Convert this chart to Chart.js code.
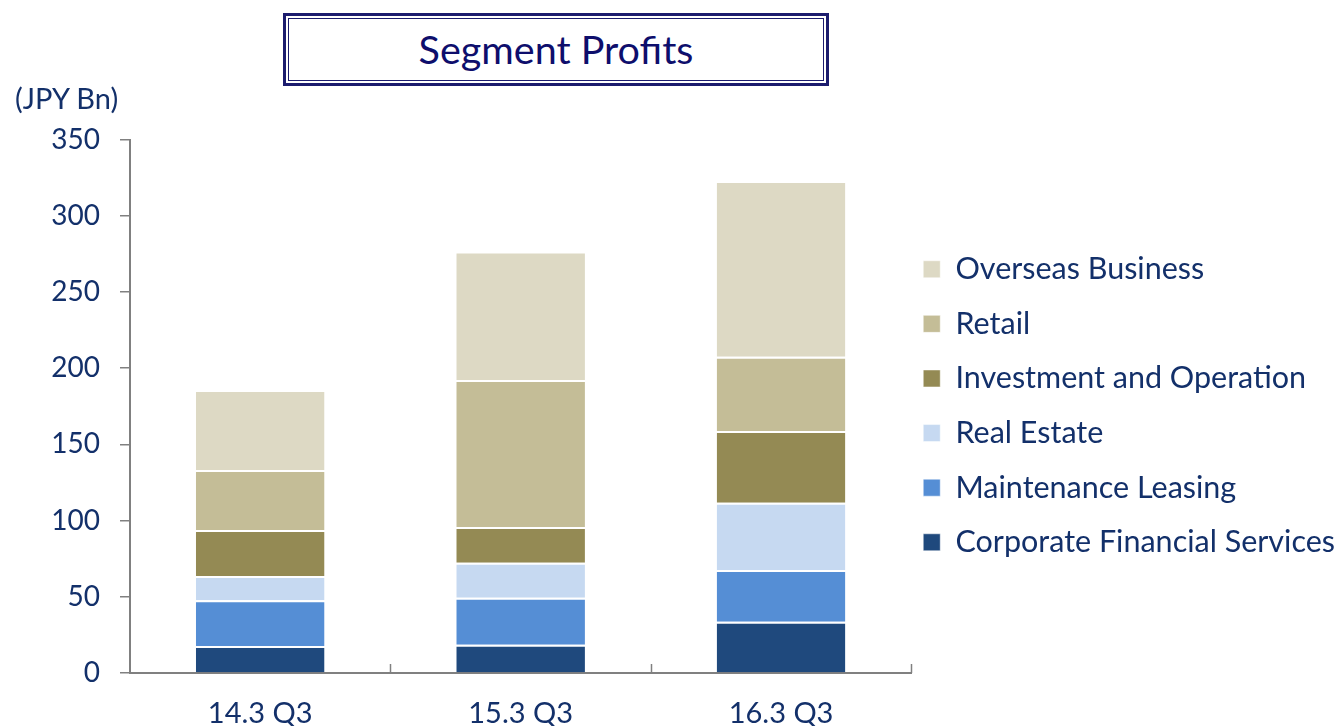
<!DOCTYPE html>
<html>
<head>
<meta charset="utf-8">
<script src="https://cdn.jsdelivr.net/npm/chart.js@4.4.1/dist/chart.umd.min.js"></script>
<style>
  html, body { margin: 0; padding: 0; background: #fff; overflow: hidden; width: 1339px; height: 726px; }
  #wrap { position: absolute; left: 0; top: 0; width: 1339px; height: 760px; }
  #titleBox { position: absolute; left: 283px; top: 13px; width: 546px; height: 73px; box-sizing: border-box;
    border: 3px solid #1c1c6e; padding: 2px; background: #fff; }
  #titleInner { width: 100%; height: 100%; box-sizing: border-box; border: 1px solid #1c1c6e;
    display: flex; align-items: center; justify-content: center;
    font-family: Lato, sans-serif; font-size: 39.5px; color: #0e0e6c; padding-bottom: 3px; }
  #unit { position: absolute; left: 15px; top: 80px; font-family: Lato, sans-serif; font-size: 29px; color: #13306a; }
</style>
</head>
<body>
<div id="wrap"><canvas id="c"></canvas></div>
<div id="titleBox"><div id="titleInner">Segment Profits</div></div>
<div id="unit">(JPY Bn)</div>
<script>
const categories = ['14.3 Q3', '15.3 Q3', '16.3 Q3'];
const seriesNames = ['Corporate Financial Services', 'Maintenance Leasing', 'Real Estate', 'Investment and Operation', 'Retail', 'Overseas Business'];
const corporateFinancial = [17.7, 18.6, 33.7];
const maintenanceLeasing = [30.0, 30.8, 33.9];
const realEstate = [15.9, 23.0, 44.1];
const investmentOperation = [30.2, 23.4, 47.1];
const retail = [39.4, 96.5, 48.7];
const overseas = [52.5, 84.3, 115.3];
const yTicks = [0, 50, 100, 150, 200, 250, 300, 350];

const seriesValues = [corporateFinancial, maintenanceLeasing, realEstate, investmentOperation, retail, overseas];
const colors = ['#1F497D', '#558ED5', '#C6D9F1', '#948A54', '#C4BD97', '#DDD9C4'];
const textColor = '#13306a';
const axisColor = '#808080';

const xTickPlugin = {
  id: 'xTickPlugin',
  afterDraw(chart) {
    const xs = chart.scales.x;
    const ctx = chart.ctx;
    const n = categories.length;
    const bottom = chart.chartArea.bottom;
    ctx.save();
    ctx.strokeStyle = axisColor;
    ctx.lineWidth = 1.5;
    for (let i = 1; i <= n; i++) {
      const x = Math.round(xs.left + i * (xs.width / n)) + 0.5;
      ctx.beginPath();
      ctx.moveTo(x, bottom);
      ctx.lineTo(x, bottom - 9);
      ctx.stroke();
    }
    ctx.restore();
  }
};

new Chart(document.getElementById('c'), {
  type: 'bar',
  data: {
    labels: categories,
    datasets: seriesNames.map((name, i) => ({
      label: [name],
      data: seriesValues[i],
      backgroundColor: colors[i],
      borderColor: '#ffffff',
      borderWidth: { top: 2, right: 0, bottom: 0, left: 0 },
      borderSkipped: false,
      categoryPercentage: 1,
      barPercentage: 0.494
    }))
  },
  options: {
    responsive: true,
    maintainAspectRatio: false,
    animation: false,
    layout: { padding: { top: 139.5, left: 0, right: -6, bottom: 0 } },
    plugins: {
      title: { display: false },
      tooltip: { enabled: false },
      legend: {
        position: 'right',
        reverse: true,
        align: 'start',
        maxWidth: 600,
        title: { display: true, text: '', font: { size: 10, lineHeight: 1 }, padding: { top: 92.5, bottom: 0 } },
        labels: {
          boxWidth: 17,
          boxHeight: 17,
          padding: 12,
          color: textColor,
          font: { family: 'Lato', size: 30.5, lineHeight: 1.397 }
        }
      }
    },
    scales: {
      x: {
        stacked: true,
        grid: { display: false },
        border: { display: true, color: axisColor, width: 2 },
        ticks: { color: textColor, font: { family: 'Lato', size: 29 }, padding: 15, maxRotation: 0 },
        afterFit(scale) { scale.height = 760 - 673; }
      },
      y: {
        stacked: true,
        min: 0,
        max: 350,
        afterBuildTicks(scale) { scale.ticks = yTicks.map(v => ({ value: v })); },
        grid: { display: true, drawOnChartArea: false, drawTicks: true, tickLength: 10, color: axisColor, lineWidth: 1.5 },
        border: { display: true, color: axisColor, width: 2 },
        ticks: { color: textColor, font: { family: 'Lato', size: 28 }, padding: 20 },
        afterFit(scale) { scale.width = 130; }
      }
    }
  },
  plugins: [xTickPlugin]
});
</script>
</body>
</html>
